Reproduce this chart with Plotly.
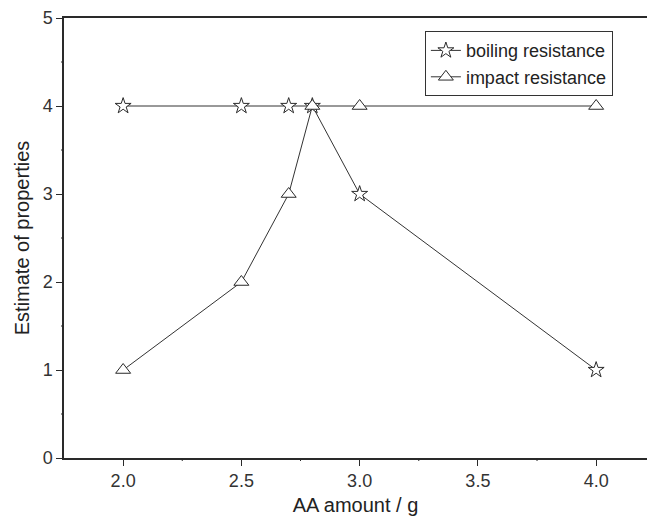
import plotly.graph_objects as go

aa_amount = [2.0, 2.5, 2.7, 2.8, 3.0, 4.0]
boiling_resistance = [4, 4, 4, 4, 3, 1]
impact_resistance = [1, 2, 3, 4, 4, 4]

x_ticks = [2.0, 2.5, 3.0, 3.5, 4.0]
x_tick_labels = ["2.0", "2.5", "3.0", "3.5", "4.0"]
y_ticks = [0, 1, 2, 3, 4, 5]
x_minor = [2.25, 2.75, 3.25, 3.75]
y_minor = [0.5, 1.5, 2.5, 3.5, 4.5]

INK = "#2a2a2a"
FONT = "Liberation Sans, Arial, sans-serif"

fig = go.Figure()
fig.add_trace(go.Scatter(
    x=aa_amount, y=boiling_resistance, mode="lines+markers",
    name="boiling resistance",
    line=dict(color="#333333", width=1),
    marker=dict(symbol="star", size=12, color="white",
                line=dict(color=INK, width=1)),
))
fig.add_trace(go.Scatter(
    x=aa_amount, y=impact_resistance, mode="lines+markers",
    name="impact resistance",
    line=dict(color="#333333", width=1),
    marker=dict(symbol="triangle-up", size=13, color="white",
                line=dict(color=INK, width=1)),
))

fig.update_layout(
    width=647, height=521,
    margin=dict(l=64, r=0, t=18, b=63),
    paper_bgcolor="white", plot_bgcolor="white",
    font=dict(family=FONT, color="#333333", size=16),
    showlegend=True,
    legend=dict(x=0.619, y=0.97, xanchor="left", yanchor="top",
                bordercolor="#333333", borderwidth=1, bgcolor="white",
                font=dict(size=18, color="#222222"),
                tracegroupgap=0, itemwidth=30),
)
fig.update_xaxes(
    range=[1.75, 4.215], tickmode="array", tickvals=x_ticks, ticktext=x_tick_labels,
    showgrid=False, zeroline=False,
    showline=True, linecolor=INK, linewidth=1.5, mirror=True,
    ticks="outside", ticklen=6, tickcolor=INK, tickwidth=1,
    tickfont=dict(family=FONT, size=18, color="#333333"),
    title=dict(text="AA amount / g", font=dict(size=20, color="#222222"),
               standoff=8),
)
fig.update_yaxes(
    range=[0, 5], tickmode="array", tickvals=y_ticks,
    showgrid=False, zeroline=False,
    showline=True, linecolor=INK, linewidth=1.5, mirror=False,
    ticks="outside", ticklen=6, tickcolor=INK, tickwidth=1,
    tickfont=dict(family=FONT, size=18, color="#333333"),
    title=dict(text="Estimate of properties",
               font=dict(size=20, color="#222222"), standoff=8),
)

# minor ticks as short pixel-sized shapes anchored at the axis values
for v in x_minor:
    fig.add_shape(type="line", xref="x", yref="paper", x0=v, x1=v,
                  ysizemode="pixel", yanchor=0, y0=0, y1=-3,
                  line=dict(color=INK, width=1))
for v in y_minor:
    fig.add_shape(type="line", yref="y", xref="paper", y0=v, y1=v,
                  xsizemode="pixel", xanchor=0, x0=0, x1=-3,
                  line=dict(color=INK, width=1))

fig.write_html("out.html")
